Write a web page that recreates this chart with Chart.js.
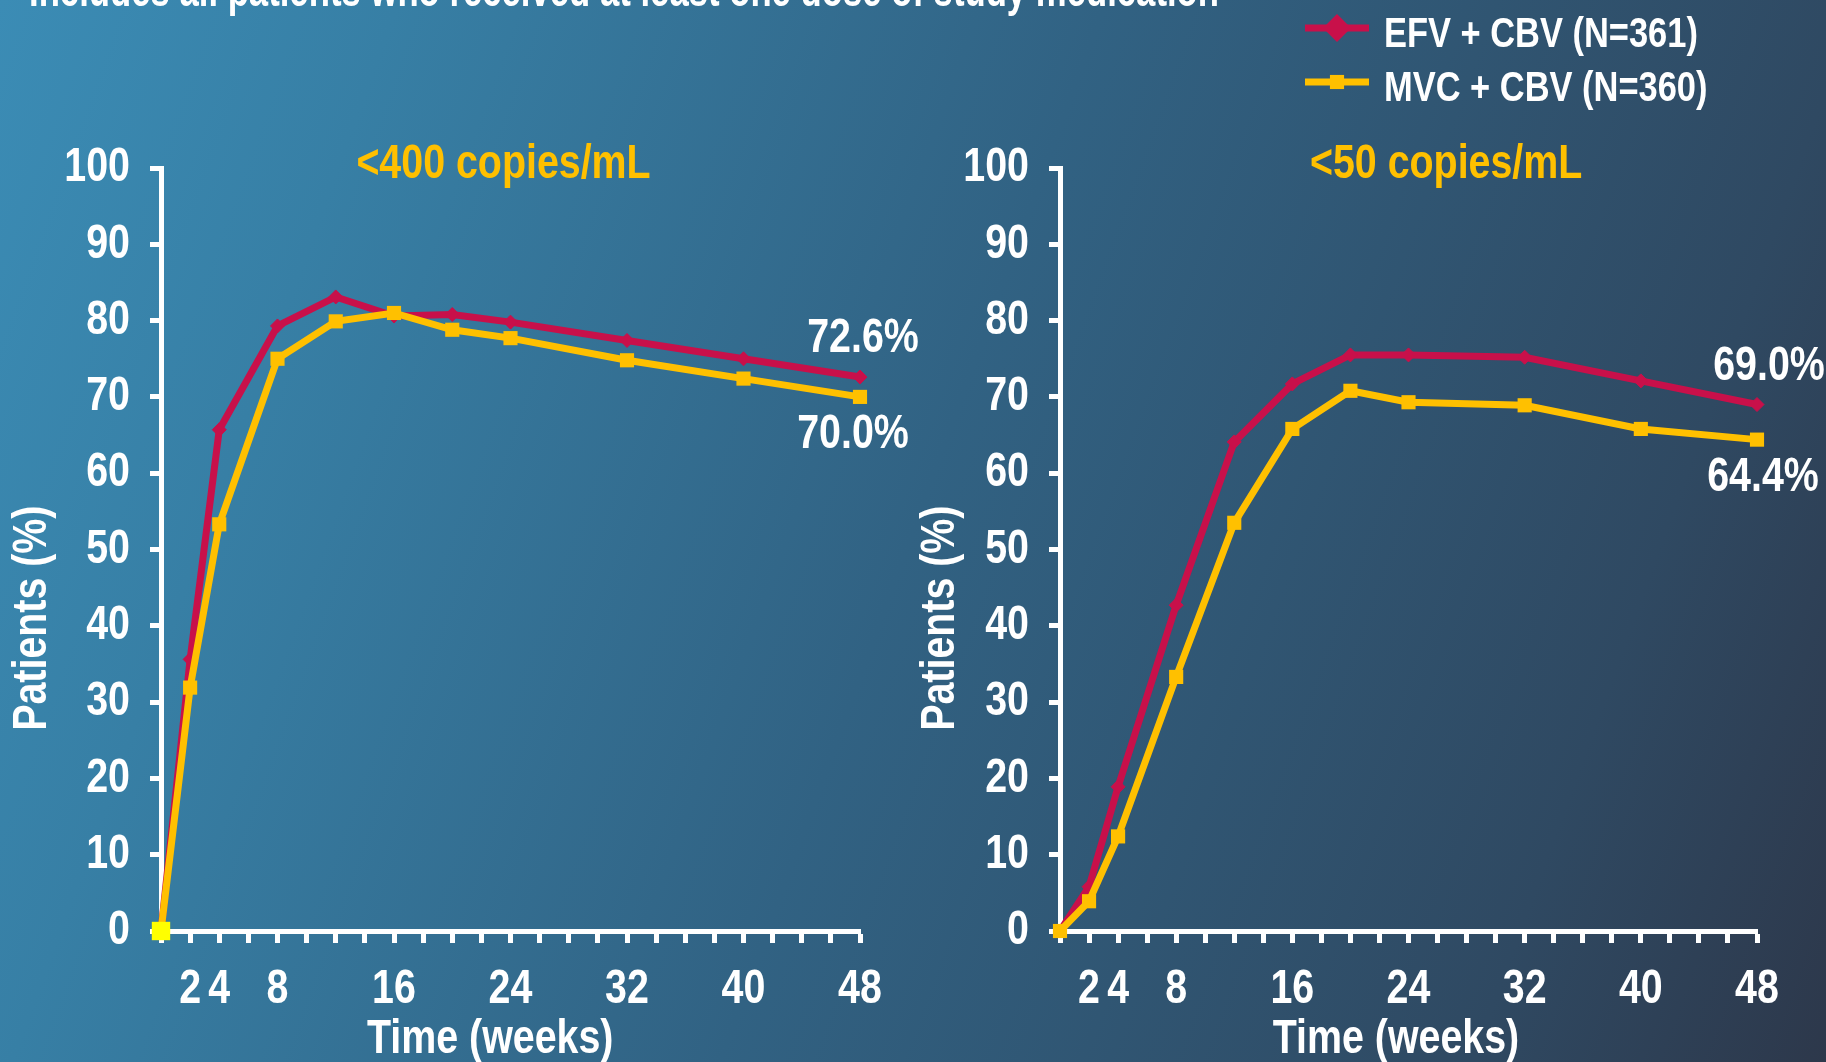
<!DOCTYPE html>
<html>
<head>
<meta charset="utf-8">
<title>Virologic response over 48 weeks</title>
<script src="https://cdn.jsdelivr.net/npm/chart.js@4.4.1/dist/chart.umd.min.js"></script>
<style>
  html, body { margin: 0; padding: 0; width: 1826px; height: 1062px; overflow: hidden; }
  body {
    position: relative;
    background: linear-gradient(110deg, #3b8cb5 0%, #377fa5 18%, #316283 50%, #2f4962 84%, #2d384b 100%);
  }
  canvas { position: absolute; left: 0; top: 0; }
</style>
</head>
<body>
<canvas id="panel400" width="1826" height="1062"></canvas>
<canvas id="panel50" width="1826" height="1062"></canvas>
<script>
// Study visits (weeks) and the share of patients below each threshold
const weeks = [0, 2, 4, 8, 12, 16, 20, 24, 32, 40, 48];
const weekTickLabels = [2, 4, 8, 16, 24, 32, 40, 48];
const seriesNames = ['EFV + CBV (N=361)', 'MVC + CBV (N=360)'];

const efvBelow400 = [0, 35.6, 65.7, 79.3, 83.1, 80.6, 80.8, 79.8, 77.4, 75.0, 72.6];
const mvcBelow400 = [0, 31.9, 53.3, 75.0, 79.9, 81.0, 78.8, 77.7, 74.8, 72.4, 70.0];
const efvBelow50  = [0, 5.8, 18.9, 42.7, 64.1, 71.7, 75.5, 75.5, 75.2, 72.1, 69.0];
const mvcBelow50  = [0, 3.9, 12.4, 33.3, 53.5, 65.8, 70.8, 69.3, 68.9, 65.8, 64.4];

const panelTitles = ['<400 copies/mL', '<50 copies/mL'];
const yTitle = 'Patients (%)';
const xTitle = 'Time (weeks)';
const footnote = 'Includes all patients who received at least one dose of study medication';

const RED = '#c8104a';
const GOLD = '#ffc000';
const WHITE = '#ffffff';
const FAMILY = "'Liberation Sans', Arimo, Arial, sans-serif";
const NARROW = 0.82;   // horizontal squeeze giving a narrow bold face

Chart.defaults.font.family = FAMILY;
Chart.defaults.font.weight = 'bold';

// All lettering on this slide uses a narrow face: squeeze every fillText
// horizontally around its anchor so alignment is kept.
function narrowText(canvas) {
  const ctx = canvas.getContext('2d');
  const fill = ctx.fillText;
  ctx.fillText = function (text, x, y, maxWidth) {
    this.save();
    this.translate(x, y);
    this.scale(NARROW, 1);
    if (maxWidth === undefined) fill.call(this, text, 0, 0);
    else fill.call(this, text, 0, 0, maxWidth / NARROW);
    this.restore();
  };
  return canvas;
}

const toPoints = vals => weeks.map((w, i) => ({ x: w, y: vals[i] }));

// Text that sits around each panel: heading, axis titles, end-value labels,
// plus the footnote and legend where a panel asks for them.
const panelText = {
  id: 'panelText',
  afterDatasetsDraw(chart, args, opts) {
    const { ctx, chartArea: a } = chart;
    const w = a.right - a.left;
    ctx.save();
    ctx.textAlign = 'center';
    ctx.textBaseline = 'middle';

    // heading
    ctx.font = `bold 48px ${FAMILY}`;
    ctx.fillStyle = GOLD;
    ctx.fillText(opts.title, a.left + w * opts.titleAt, a.top - 3);

    // axis titles
    ctx.fillStyle = WHITE;
    ctx.fillText(xTitle, a.left + w * opts.xTitleAt, 1040);
    ctx.save();
    ctx.translate(a.left + opts.yTitleDx, a.top + (a.bottom - a.top) * 0.59);
    ctx.rotate(-Math.PI / 2);
    ctx.fillText(yTitle, 0, 0);
    ctx.restore();

    // value at the final visit for each series
    ctx.font = `bold 48px ${FAMILY}`;
    chart.data.datasets.forEach((ds, i) => {
      const meta = chart.getDatasetMeta(i);
      const last = ds.data.length - 1;
      const pt = meta.data[last];
      const txt = ds.data[last].y.toFixed(1) + '%';
      ctx.fillText(txt, pt.x + opts.valueDx[i], pt.y + ds.labelSide * 38);
    });

    if (opts.footnote) {
      ctx.textAlign = 'left';
      ctx.textBaseline = 'alphabetic';
      ctx.font = `bold 48px ${FAMILY}`;
      ctx.fillText(footnote, 29, 6, 1190);
    }

    if (opts.legend) {
      ctx.textAlign = 'left';
      ctx.font = `bold 42px ${FAMILY}`;
      chart.data.datasets.forEach((ds, i) => {
        const y = 28 + i * 54;
        ctx.strokeStyle = ds.borderColor;
        ctx.lineWidth = 7;
        ctx.beginPath();
        ctx.moveTo(1305, y);
        ctx.lineTo(1369, y);
        ctx.stroke();
        ctx.fillStyle = ds.borderColor;
        Chart.helpers.drawPoint(ctx, {
          pointStyle: ds.pointStyle,
          radius: ds.pointStyle === 'rectRot' ? 14 : 10,
          rotation: 0,
          borderWidth: 0
        }, 1337, y);
        ctx.fillStyle = WHITE;
        ctx.textBaseline = 'middle';
        ctx.fillText(ds.label, 1384, y + 7);
      });
    }
    ctx.restore();
  }
};

function buildPanel(canvasId, efv, mvc, frame, text) {
  const tickFont = { family: FAMILY, weight: 'bold', size: 48 };
  const startFill = frame.highlightStart ? '#ffff00' : GOLD;
  const startRadius = frame.highlightStart ? 13 : 10;
  return new Chart(narrowText(document.getElementById(canvasId)), {
    type: 'line',
    data: {
      datasets: [
        {
          label: seriesNames[0],
          data: toPoints(efv),
          borderColor: RED,
          backgroundColor: RED,
          borderWidth: 7,
          pointStyle: 'rectRot',
          pointRadius: 7,
          pointBorderWidth: 1,
          pointBackgroundColor: RED,
          pointBorderColor: RED,
          tension: 0,
          clip: false,
          order: 1,
          labelSide: -1
        },
        {
          label: seriesNames[1],
          data: toPoints(mvc),
          borderColor: GOLD,
          backgroundColor: GOLD,
          borderWidth: 7,
          pointStyle: 'rect',
          pointRadius: weeks.map((w, i) => i === 0 ? startRadius : 10),
          pointBorderWidth: 0,
          pointBackgroundColor: weeks.map((w, i) => i === 0 ? startFill : GOLD),
          pointBorderColor: GOLD,
          tension: 0,
          clip: false,
          order: 0,
          labelSide: 1
        }
      ]
    },
    options: {
      responsive: false,
      animation: false,
      events: [],
      layout: { padding: { left: frame.left, right: frame.right, top: 168, bottom: 0 } },
      plugins: {
        legend: { display: false },
        title: { display: false },
        tooltip: { enabled: false },
        panelText: text
      },
      scales: {
        x: {
          type: 'linear',
          min: 0,
          max: 48,
          afterFit: s => { s.height = 131; },
          ticks: {
            stepSize: 2,
            maxTicksLimit: 100,
            autoSkip: false,
            maxRotation: 0,
            padding: 18,
            color: WHITE,
            font: tickFont,
            callback: v => weekTickLabels.includes(v) ? String(v) : ''
          },
          grid: { drawOnChartArea: false, drawTicks: true, tickLength: 12, tickWidth: 5, tickColor: WHITE },
          border: { display: true, color: WHITE, width: 5 }
        },
        y: {
          min: 0,
          max: 100,
          afterFit: s => { s.width = frame.axisWidth; },
          ticks: { stepSize: 10, padding: 20, color: WHITE, font: tickFont },
          grid: { drawOnChartArea: false, drawTicks: true, tickLength: 11, tickWidth: 5, tickColor: WHITE },
          border: { display: true, color: WHITE, width: 5 }
        }
      }
    },
    plugins: [panelText]
  });
}

buildPanel('panel400', efvBelow400, mvcBelow400,
  { left: 0, right: 1826 - 860, axisWidth: 161, highlightStart: true },
  { title: panelTitles[0], titleAt: 0.49, xTitleAt: 0.471, yTitleDx: -128,
    valueDx: [3, -7], footnote: true, legend: false });

buildPanel('panel50', efvBelow50, mvcBelow50,
  { left: 900, right: 1826 - 1757, axisWidth: 160, highlightStart: false },
  { title: panelTitles[1], titleAt: 0.554, xTitleAt: 0.482, yTitleDx: -119,
    valueDx: [12, 6], footnote: false, legend: true });
</script>
</body>
</html>
